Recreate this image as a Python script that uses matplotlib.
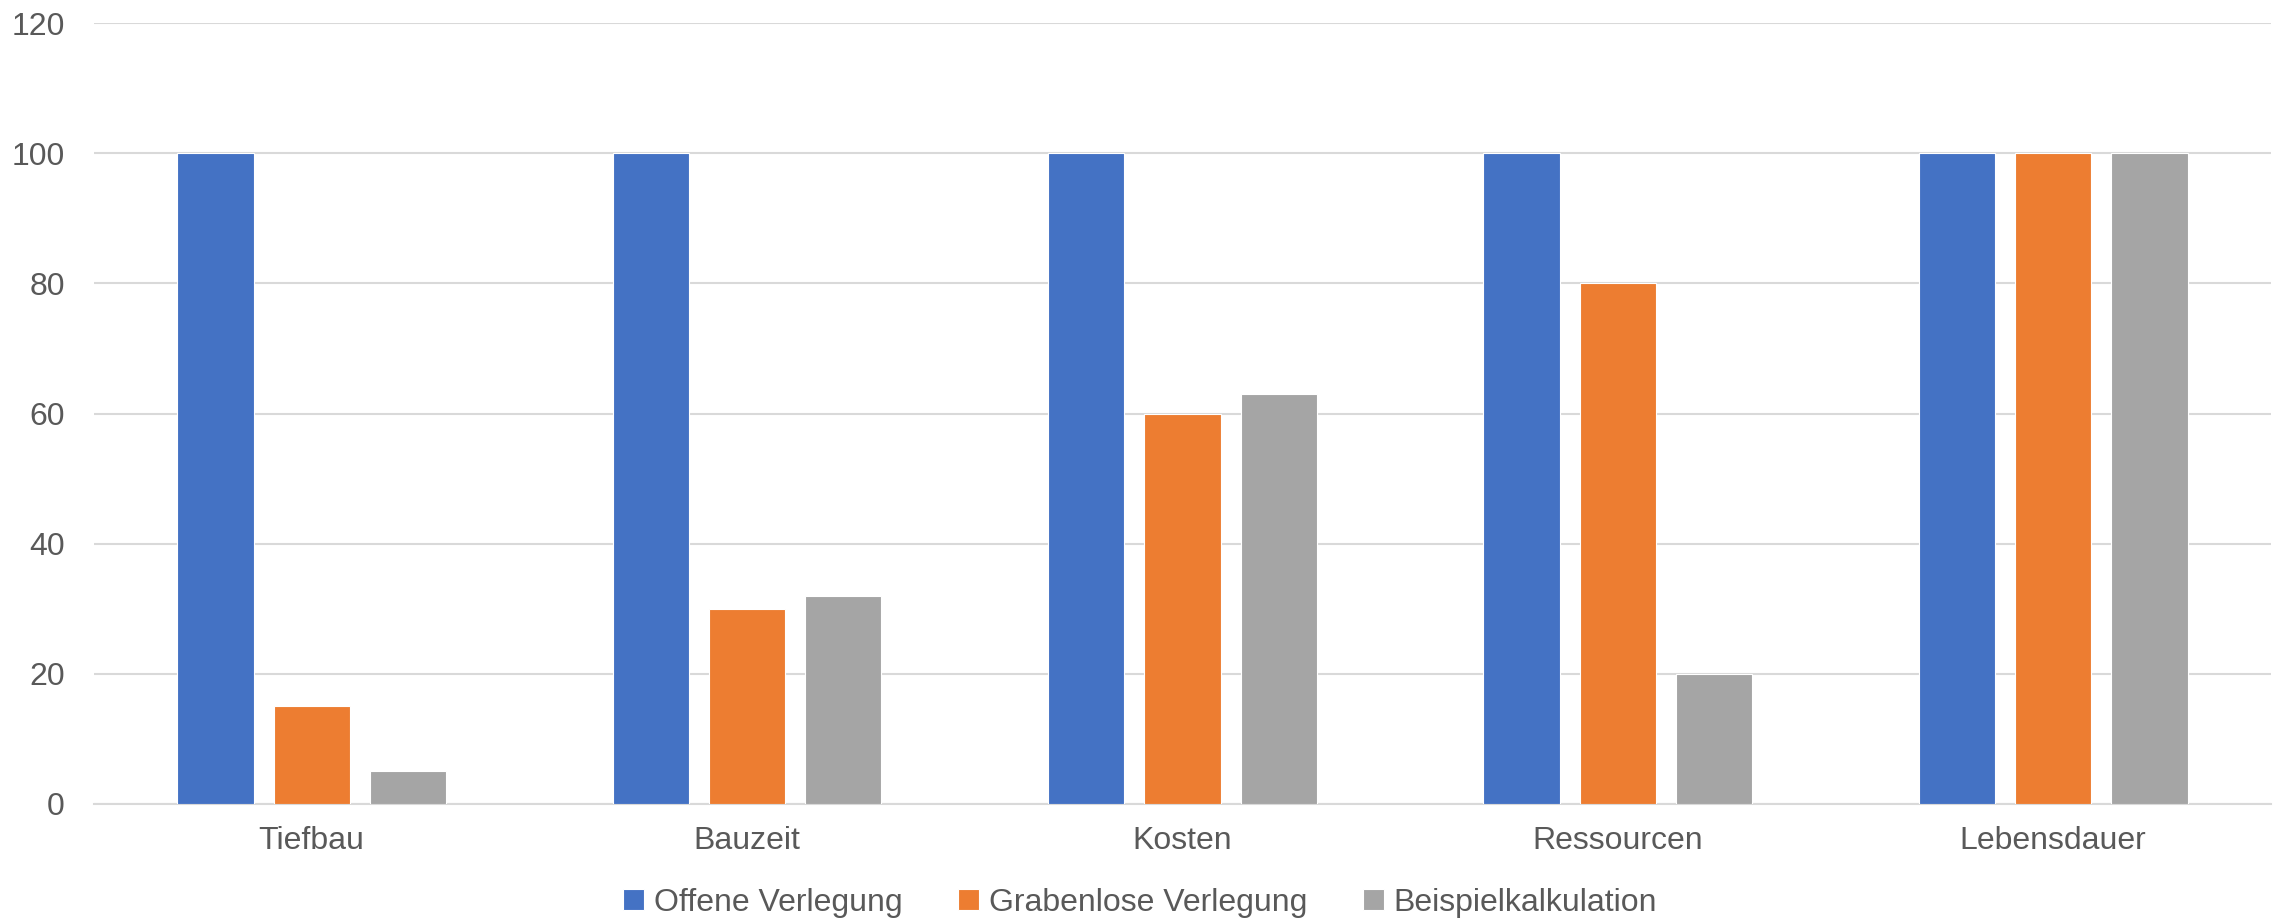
import numpy as np
import matplotlib.pyplot as plt

kategorien = ["Tiefbau", "Bauzeit", "Kosten", "Ressourcen", "Lebensdauer"]
offene_verlegung = [100, 100, 100, 100, 100]
grabenlose_verlegung = [15, 30, 60, 80, 100]
beispielkalkulation = [5, 32, 63, 20, 100]
serien_namen = ["Offene Verlegung", "Grabenlose Verlegung", "Beispielkalkulation"]
y_ticks = [0, 20, 40, 60, 80, 100, 120]

farben = ["#4472C4", "#ED7D31", "#A5A5A5"]
textfarbe = "#595959"

plt.rcParams['font.family'] = ['Liberation Sans', 'DejaVu Sans']

fig = plt.figure(figsize=(22.8, 9.22), dpi=100)
ax = fig.add_axes([0.0412, 0.128, 0.9548, 0.847])

x = np.arange(len(kategorien))
breite = 0.175
abstand = 0.221
for i, (werte, name) in enumerate(zip([offene_verlegung, grabenlose_verlegung, beispielkalkulation], serien_namen)):
    ax.bar(x + (i - 1) * abstand, werte, width=breite, color=farben[i],
           edgecolor="white", linewidth=0.8, label=name, zorder=3)

ax.set_xlim(-0.5, len(kategorien) - 0.5)
ax.set_ylim(0, 120)
ax.set_yticks(y_ticks)
ax.set_xticks(x)
ax.set_xticklabels(kategorien)
ax.yaxis.grid(True, color="#D9D9D9", linewidth=1.5, zorder=0)
ax.tick_params(axis="y", length=0, pad=21, labelsize=23, labelcolor=textfarbe)
ax.tick_params(axis="x", length=0, pad=16, labelsize=23, labelcolor=textfarbe)
for seite in ["top", "right", "left"]:
    ax.spines[seite].set_visible(False)
ax.spines["bottom"].set_color("#D9D9D9")
ax.spines["bottom"].set_linewidth(1.5)

leg = fig.legend(loc="center", bbox_to_anchor=(0.5, 0.021), ncol=3, frameon=False,
                 fontsize=23, handlelength=0.65, handleheight=0.65, handletextpad=0.3,
                 columnspacing=1.75)
for t in leg.get_texts():
    t.set_color(textfarbe)

fig.savefig("out.png", dpi=100)
